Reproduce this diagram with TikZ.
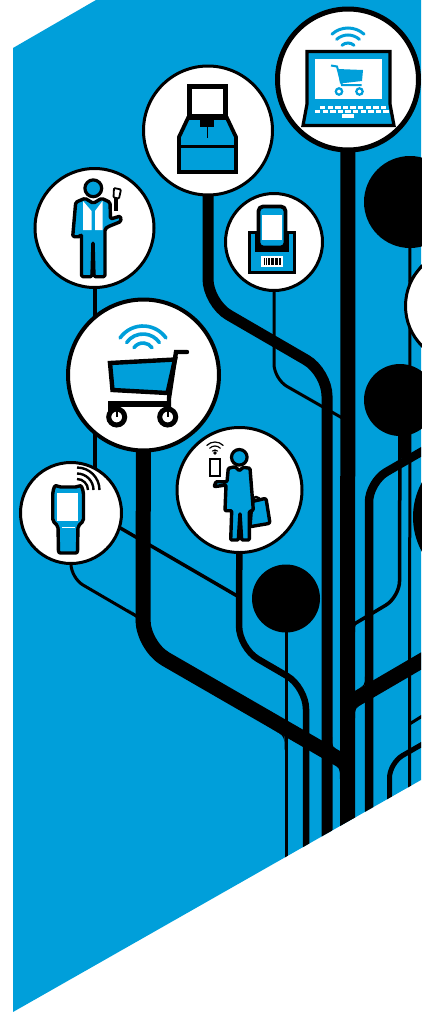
\documentclass[tikz,border=0pt]{standalone}
\usepackage{xcolor}
\usepackage{tikz}
\usetikzlibrary{backgrounds,calc}
\definecolor{sky1}{HTML}{009FDA}
\definecolor{ink}{HTML}{000000}

\tikzset{
  ring/.style={circle,draw=ink,fill=white,inner sep=0pt,line width=3pt,minimum size=#1},
  blob/.style={circle,fill=ink,inner sep=0pt,minimum size=#1},
  branch/.style={draw=ink,line width=#1},
  outline/.style={draw=ink,fill=sky1,line width=#1,line join=round},
}
\newcommand{\waves}[5]{% centre x, y, half angle, colour, width
  \foreach \r in {#5}{
    \draw[#4,line cap=round] (#1,#2) ++(-90-#3:\r) arc[start angle=-90-#3,end angle=-90+#3,radius=\r];
  }
}

\begin{document}
\begin{tikzpicture}[x=1pt,y=-1pt]
  \useasboundingbox (0,0) rectangle (421,1012);

  % stops
  \node[ring=141pt,line width=5pt] (laptop) at (348,79.5) {};
  \node[ring=129pt] (kiosk) at (208,130.5) {};
  \node[ring=97pt] (printer) at (274,242) {};
  \node[ring=119pt] (worker) at (94.5,228) {};
  \node[ring=151pt,line width=4pt] (trolley) at (143.5,375) {};
  \node[ring=125pt] (shopper) at (239.5,490) {};
  \node[ring=101pt] (handheld) at (71,513) {};
  \node[ring=113pt] (sidestop) at (462,306) {};
  \node[blob=68pt] (dotlow) at (286,598.5) {};
  \node[blob=92pt] (dottop) at (410,202) {};
  \node[blob=72pt] (dotmid) at (400,400) {};
  \node[blob=144pt] (dotside) at (485,517) {};

  \begin{scope}[on background layer]
    \fill[sky1] (13,48) -- (96,0) -- (421,0) -- (421,780) -- (13,1012) -- cycle;
    \clip (13,48) -- (96,0) -- (421,0) -- (421,780) -- (13,1012) -- cycle;

    \coordinate (trunkend) at (347.5,860);
    \coordinate (kioskend) at (327,860);
    \coordinate (lowend) at (286,860);
    \coordinate (shopend) at (306,860);
    \coordinate (rightend) at (369,860);
    \coordinate (thinend) at (409.5,860);
    \coordinate (hookend) at (389.5,860);
    \coordinate (trunkjoin) at (347.5,764);
    \coordinate (handjoin) at (worker.center |- handheld.center);
    \coordinate (rightA) at (440,441);
    \coordinate (rightB) at (440,650);
    \coordinate (rightC) at (440,734);
    \coordinate (rightD) at (440,705);

    % thick branches
    \draw[branch=15pt] (laptop.center) -- (trunkend);
    \draw[branch=11pt,rounded corners=24pt] (kiosk.center) -- (208,303) -- (327,372) -- (kioskend);
    \draw[branch=15pt,rounded corners=26pt] (trolley.center) -- (143,646) -- (trunkjoin);
    \draw[branch=6.5pt,rounded corners=22pt] (shopper.center) -- (239,648) -- (306,687) -- (shopend);
    \draw[branch=8.5pt,rounded corners=20pt] (rightA) -- (369,482) -- (rightend);
    \draw[branch=15pt] (rightB) -- (347.5,704);
    \draw[branch=5pt,rounded corners=15pt] (rightC) -- (389.5,763) -- (hookend);

    % thin branches
    \draw[branch=4pt] (worker.center) -- (handjoin);
    \draw[branch=3.5pt] (handjoin) -- (239,597);
    \draw[branch=3pt,rounded corners=14pt] (handheld.center) -- (71,578) -- (143,620);
    \draw[branch=3pt,rounded corners=15pt] (printer.center) -- (274,379) -- (347.5,421);
    \draw[branch=3pt] (dotlow.center) -- (lowend);
    \draw[branch=3pt] (dottop.center) -- (thinend);
    \draw[branch=3.5pt,rounded corners=16pt] (dotmid.center) -- (399.5,597) -- (347.5,628);
    \draw[branch=13pt] (404.5,420) -- (404.5,458);
    \draw[branch=3pt] (409.5,724) -- (rightD);
    \draw[branch=3pt] (409.5,282) -- (425,262);

    % fillets where branches meet
    \fill[ink] (284.5,736) -- (272,729) .. controls (284.5,736) .. (284.5,750) -- cycle;
    \fill[ink] (136,614) -- (128,609) .. controls (136,614) .. (136,624) -- cycle;
    \fill[ink] (332,747) -- (332,737) .. controls (332,747) .. (341,752) -- cycle;
    \fill[ink] (340,768) -- (332,763.5) .. controls (340,768) .. (340,780) -- cycle;
    \fill[ink] (365,685) -- (365,676) .. controls (365,685) .. (355,691) -- cycle;
    \fill[ink] (355,708) -- (355,718) .. controls (355,708) .. (364,703) -- cycle;
    \fill[ink] (355,624) -- (355,632) .. controls (355,624) .. (362,620) -- cycle;
  \end{scope}

  % laptop
  \waves{348}{52}{42}{sky1,line width=3pt}{24,17,9}
  \draw[outline=3.2pt,line join=miter] (307,51.5) -- (390,51.5) -- (390,104) -- (394,125.5) -- (303,125.5) -- (307,104) -- cycle;
  \fill[white] (315,59) rectangle (382,99);
  \fill[sky1] (337.5,69) -- (363,70) -- (362,81) -- (340,83.5) -- cycle;
  \draw[sky1,line width=2pt] (331,65.5) -- (337,66.5) -- (342,85) -- (361.5,85);
  \draw[sky1,line width=2.2pt,fill=white] (339,91.5) circle[radius=3.2] (359.5,91.5) circle[radius=3.2];
  \foreach \i in {0,...,8}{ \fill[white] ({320+\i*7.6},105.5) rectangle ++(5.4,3); }
  \foreach \i in {0,...,9}{ \fill[white] ({315+\i*7.6},110) rectangle ++(5.4,3); }
  \fill[white] (341.5,113.5) rectangle (354,117.5);

  % kiosk
  \draw[outline=3.8pt,line join=miter] (188,118) -- (179,137) -- (179,172) -- (236,172) -- (236,137) -- (227,118) -- cycle;
  \draw[ink,line width=3.8pt] (178,146.5) -- (237,146.5);
  \draw[ink,fill=white,line width=5pt] (189,86.5) rectangle (225.5,116);
  \fill[ink] (200,120) rectangle (214,127);
  \draw[ink,line width=1.5pt] (207.5,127) -- (207.5,138);

  % printer
  \draw[outline=3.4pt,line join=miter] (249.5,232.5) rectangle (294.5,272.5);
  \fill[ink] (255,233) rectangle (289,252);
  \draw[outline=3.8pt,rounded corners=4.5pt] (258.5,206.5) rectangle (285.5,247.5);
  \fill[white] (262,215) rectangle (282,240);
  \fill[white] (261,256) rectangle (283,267);
  \foreach \bx/\bw in {264/1.2,266/.7,268/1.5,270.5/.7,272/1.5,274.5/.7,276/1.5,278.5/.7,280/1.2}{
    \fill[ink] (\bx,258) rectangle ++(\bw,7);
  }

  % worker
  \draw[outline=3.2pt] (93.3,188.3) circle[radius=8.4];
  \draw[outline=3.4pt,rounded corners=1.5pt] (75.7,202.3) -- (85,198.3) -- (93.3,203.3) -- (101.7,198.3) -- (110,202.3)
    -- (110.5,219) -- (120.5,216) -- (121,221.5) -- (108,226.7) -- (105,229) -- (105,276.7) -- (94,276.7)
    -- (93,241.7) -- (92,276.7) -- (81.5,276.7) -- (81.5,234) -- (80,236.7) -- (72.7,236.7) -- cycle;
  \fill[white] (83,201) -- (91.5,211) -- (91.5,230) -- (83,230) -- cycle;
  \fill[white] (95,211) -- (102.5,201) -- (102.5,230) -- (95,230) -- cycle;
  \draw[ink,line width=3.4pt] (116,198) -- (116,211);
  \draw[ink,fill=white,line width=1.8pt,rounded corners=1pt] (114,188) -- (121,189.5) -- (119,198.5) -- (113.5,197.5) -- cycle;

  % trolley
  \waves{143}{354}{55}{sky1,line width=3.6pt}{28,20,11}
  \draw[outline=4.4pt,line join=miter] (110,363) -- (175,359.5) -- (167.5,393) -- (112.5,390) -- cycle;
  \draw[ink,line width=4.4pt,line cap=round] (187,352) -- (176,352) -- (169,398) -- (169,412);
  \draw[ink,line width=6pt] (111,415) -- (111,404) -- (170,404);
  \draw[ink,fill=white,line width=5pt] (116.7,417) circle[radius=8] (167.7,417) circle[radius=8];
  \draw[ink,line width=2.4pt] (116.7,409) -- (116.7,417) (167.7,409) -- (167.7,417);

  % shopper
  \draw[outline=3.2pt] (239.3,457.3) circle[radius=7.8];
  \draw[outline=3.4pt,rounded corners=2pt] (252,501.5) -- (266,498.3) -- (270,523.3) -- (250,526.7) -- cycle;
  \draw[ink,line width=2.4pt] (252,501) arc[start angle=-180,end angle=0,radius=4];
  \draw[outline=3.4pt,rounded corners=1pt] (235,466.7) -- (228.3,468.3) -- (227,481.7) -- (216,481.7) -- (214,486.7)
    -- (226,485) -- (225,510.7) -- (231.7,510.7) -- (230.7,540) -- (238.3,540) -- (240,513) -- (241.7,540) -- (249.3,540)
    -- (249.3,511.7) -- (253.3,510) -- (250,468.3) -- (243.3,467.3) -- (239.3,470.7) -- cycle;
  \draw[ink,fill=white,line width=2.2pt] (210,459) rectangle (220,476);
  \waves{215}{453.5}{45}{ink,line width=1.2pt}{11.5,7.5,3.5}
  \fill[ink] (215,453) circle[radius=1.8];

  % handheld
  \draw[outline=3.4pt,rounded corners=2pt] (55,485) -- (59,487) -- (77.5,487) -- (81,485) -- (83.5,492) -- (83.5,521)
    -- (78,526) -- (77.5,553) -- (58.5,553) -- (58,526) -- (52.7,521) -- (52.7,492) -- cycle;
  \fill[white] (57.3,493.3) rectangle (78.3,521);
  \fill[white] (62,526.5) rectangle (75,528);
  \draw[ink,line width=2.4pt] \foreach \r in {22.5,16.5,11}{ (77,490) ++(-90:\r) arc[start angle=-90,end angle=0,radius=\r] };
\end{tikzpicture}
\end{document}
